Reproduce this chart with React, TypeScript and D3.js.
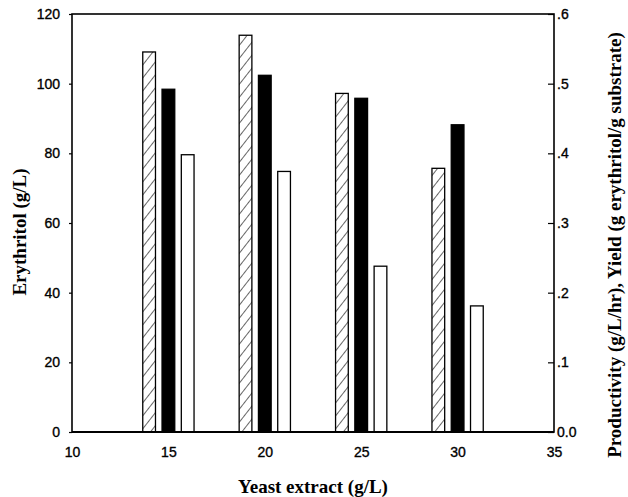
import React, { useRef, useEffect } from "react";
import * as d3 from "d3";

// yeast extract concentrations (g/L)
const yeastExtract = [15, 20, 25, 30];
// erythritol (g/L), left axis
const erythritol = [109.1, 113.9, 97.2, 75.7];
// productivity (g/L/hr), right axis
const productivity = [0.492, 0.512, 0.479, 0.441];
// yield (g erythritol / g substrate), right axis
const yieldValues = [0.398, 0.374, 0.238, 0.181];

const xTicks = [10, 15, 20, 25, 30, 35];
const leftTicks = [0, 20, 40, 60, 80, 100, 120];
const rightTicks = [0, 0.1, 0.2, 0.3, 0.4, 0.5, 0.6];

const App = () => {
  const svgRef = useRef<SVGSVGElement | null>(null);

  useEffect(() => {
    const width = 628;
    const height = 497;
    const margin = { top: 14, right: 74, bottom: 65, left: 72 };

    const svg = d3.select(svgRef.current);
    svg.selectAll("*").remove();
    svg.attr("width", width).attr("height", height);

    const x = d3
      .scaleLinear()
      .domain([10, 35])
      .range([margin.left, width - margin.right]);
    const yLeft = d3
      .scaleLinear()
      .domain([0, 120])
      .range([height - margin.bottom, margin.top]);
    const yRight = d3
      .scaleLinear()
      .domain([0, 0.6])
      .range([height - margin.bottom, margin.top]);

    // hatch pattern for erythritol bars
    const defs = svg.append("defs");
    const pattern = defs
      .append("pattern")
      .attr("id", "hatch")
      .attr("patternUnits", "userSpaceOnUse")
      .attr("width", 8)
      .attr("height", 8)
      .attr("patternTransform", "rotate(38)");
    pattern.append("rect").attr("width", 8).attr("height", 8).attr("fill", "#fff");
    pattern
      .append("line")
      .attr("x1", 0)
      .attr("y1", 0)
      .attr("x2", 0)
      .attr("y2", 8)
      .attr("stroke", "#000")
      .attr("stroke-width", 1.2);

    const barW = x(10.66) - x(10); // bar width in data units
    const offset = x(11) - x(10);

    const series = [
      { values: erythritol, scale: yLeft, dx: -offset, fill: "url(#hatch)" },
      { values: productivity, scale: yRight, dx: 0, fill: "#000" },
      { values: yieldValues, scale: yRight, dx: offset, fill: "#fff" },
    ];

    series.forEach((s) => {
      svg
        .append("g")
        .selectAll("rect")
        .data(yeastExtract)
        .join("rect")
        .attr("x", (d) => x(d) + s.dx - barW / 2)
        .attr("y", (d, i) => s.scale(s.values[i]))
        .attr("width", barW)
        .attr("height", (d, i) => s.scale(0) - s.scale(s.values[i]))
        .attr("fill", s.fill)
        .attr("stroke", "#000")
        .attr("stroke-width", 1.3);
    });

    // frame
    svg
      .append("rect")
      .attr("x", margin.left)
      .attr("y", margin.top)
      .attr("width", width - margin.left - margin.right)
      .attr("height", height - margin.top - margin.bottom)
      .attr("fill", "none")
      .attr("stroke", "#000")
      .attr("stroke-width", 1.6);
    svg
      .append("line")
      .attr("x1", margin.left)
      .attr("x2", width - margin.right)
      .attr("y1", yLeft(0))
      .attr("y2", yLeft(0))
      .attr("stroke", "#000")
      .attr("stroke-width", 2.2);

    const tickFont = "'Liberation Sans', Arial, sans-serif";

    // bottom axis (labels only)
    const xAxis = svg
      .append("g")
      .attr("transform", `translate(0,${height - margin.bottom})`)
      .call(d3.axisBottom(x).tickValues(xTicks).tickSize(0).tickPadding(15));
    xAxis.select(".domain").remove();

    // left axis
    const lAxis = svg
      .append("g")
      .attr("transform", `translate(${margin.left},0)`)
      .call(d3.axisLeft(yLeft).tickValues(leftTicks).tickSize(3).tickPadding(9));
    lAxis.select(".domain").remove();

    // right axis
    const rAxis = svg
      .append("g")
      .attr("transform", `translate(${width - margin.right},0)`)
      .call(
        d3
          .axisRight(yRight)
          .tickValues(rightTicks)
          .tickSizeInner(-6)
          .tickSizeOuter(0)
          .tickPadding(10)
          .tickFormat((d) => (d === 0 ? "0.0" : d3.format(".1f")(d as number).replace(/^0/, "")))
      );
    rAxis.select(".domain").remove();

    [xAxis, lAxis, rAxis].forEach((g) => {
      g.selectAll("text")
        .style("font-family", tickFont)
        .style("font-size", "14px")
        .attr("fill", "#000")
        .attr("stroke", "#000")
        .attr("stroke-width", 0.35);
      g.selectAll("line").attr("stroke", "#000").attr("stroke-width", 1.2);
    });
    rAxis.selectAll("text").attr("x", 3);

    const titleFont = "'Liberation Serif', 'Times New Roman', serif";

    svg
      .append("text")
      .attr("x", 313)
      .attr("y", 493)
      .attr("text-anchor", "middle")
      .style("font-family", titleFont)
      .style("font-size", "19px")
      .style("font-weight", "bold")
      .text("Yeast extract (g/L)");

    svg
      .append("text")
      .attr("transform", `translate(26,232) rotate(-90)`)
      .attr("text-anchor", "middle")
      .style("font-family", titleFont)
      .style("font-size", "19px")
      .style("font-weight", "bold")
      .text("Erythritol (g/L)");

    svg
      .append("text")
      .attr("transform", `translate(621,245) rotate(-90)`)
      .attr("text-anchor", "middle")
      .style("font-family", titleFont)
      .style("font-size", "19px")
      .style("font-weight", "bold")
      .text("Productivity (g/L/hr), Yield (g erythritol/g substrate)");
  }, []);

  return (
    <svg
      ref={svgRef}
      style={{ position: "absolute", left: 0, top: 0, display: "block", background: "#fff" }}
    />
  );
};

export default App;
